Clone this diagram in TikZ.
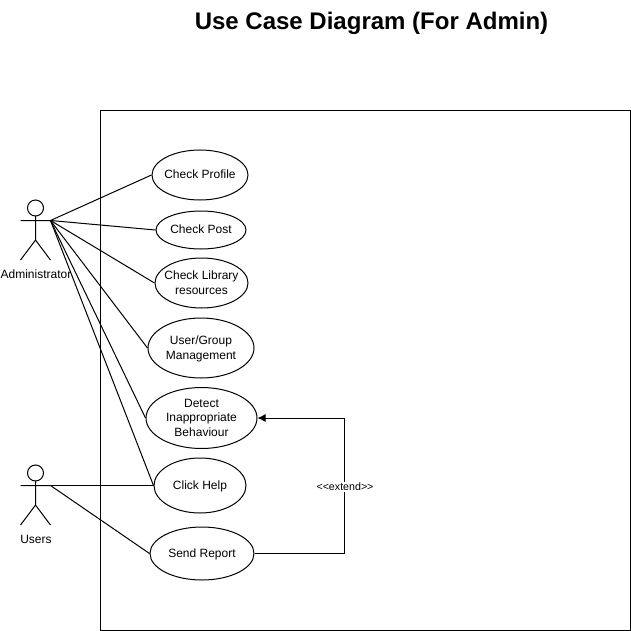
\documentclass[tikz,border=0pt]{standalone}
\usepackage{fontspec}
\setmainfont{Liberation Sans}
\usetikzlibrary{arrows.meta,shapes.geometric}
\newcommand{\uct}[1]{\raisebox{-0.75pt}[\height][\depth]{\begin{tabular}{@{}c@{}}#1\end{tabular}}}
\tikzset{x=0.75pt,y=-0.75pt,
 uc/.style={draw,ellipse,line width=0.75pt,fill=white,inner sep=-12pt,font=\fontsize{9}{10.9}\selectfont},
 lbl/.style={font=\fontsize{9}{10.5}\selectfont,inner sep=0pt,align=center},
 wire/.style={line width=0.75pt}}
\begin{document}
\begin{tikzpicture}
\useasboundingbox (0,0) rectangle (631,631);
\fill[white] (0,0) rectangle (631,631);
\node[inner sep=0pt,font=\bfseries\fontsize{18}{20}\selectfont] (title) at (371.5,23) {Use Case Diagram (For Admin)};
\draw[wire] (100.5,110.5) rectangle (630.5,630.5);
\node[uc,minimum width=72pt,minimum height=37.5pt] (a) at (200,175) {\uct{Check Profile}};
\node[uc,minimum width=67.5pt,minimum height=28.5pt] (b) at (201,230) {\uct{Check Post}};
\node[uc,minimum width=69.75pt,minimum height=37.5pt] (c) at (201.5,283) {\uct{Check Library\\resources}};
\node[uc,minimum width=79.5pt,minimum height=45pt] (d) at (201,348) {\uct{User/Group\\Management}};
\node[uc,minimum width=83.25pt,minimum height=45.75pt] (e) at (201.5,418) {\uct{Detect\\Inappropriate\\Behaviour}};
\node[uc,minimum width=69pt,minimum height=41.25pt] (f) at (200,485.5) {\uct{Click Help}};
\node[uc,minimum width=78pt,minimum height=39.75pt] (g) at (202,553.5) {\uct{Send Report}};
\coordinate (adm) at (50.5,220.5);
\coordinate (usr) at (50.5,485.5);
\draw[wire] (35.5,208) circle[radius=8];
\draw[wire] (35.5,216) -- (35.5,240) (20.5,220.5) -- (adm) (35.5,240) -- (20.5,260) (35.5,240) -- (50.5,260);
\draw[wire] (35.5,473) circle[radius=8];
\draw[wire] (35.5,481) -- (35.5,505) (20.5,485.5) -- (usr) (35.5,505) -- (20.5,525) (35.5,505) -- (50.5,525);
\node[lbl] (t1) at (36,274) {Administrator};
\node[lbl] (t2) at (36,539) {Users};
\draw[wire] (adm) -- (a.west);
\draw[wire] (adm) -- (b.west);
\draw[wire] (adm) -- (c.west);
\draw[wire] (adm) -- (d.west);
\draw[wire] (adm) -- (e.west);
\draw[wire] (adm) -- (f.west);
\draw[wire] (usr) -- (f.west);
\draw[wire] (usr) -- (g.west);
\draw[wire,-{Latex[length=6pt,width=6pt]}] (g.east) -- (344.5,553.5) -- (344.5,418) -- (e.east);
\node[lbl,fill=white,font=\fontsize{8}{9}\selectfont,inner sep=1pt] (x) at (345,487) {<{}<extend>{}>};
\end{tikzpicture}
\end{document}
